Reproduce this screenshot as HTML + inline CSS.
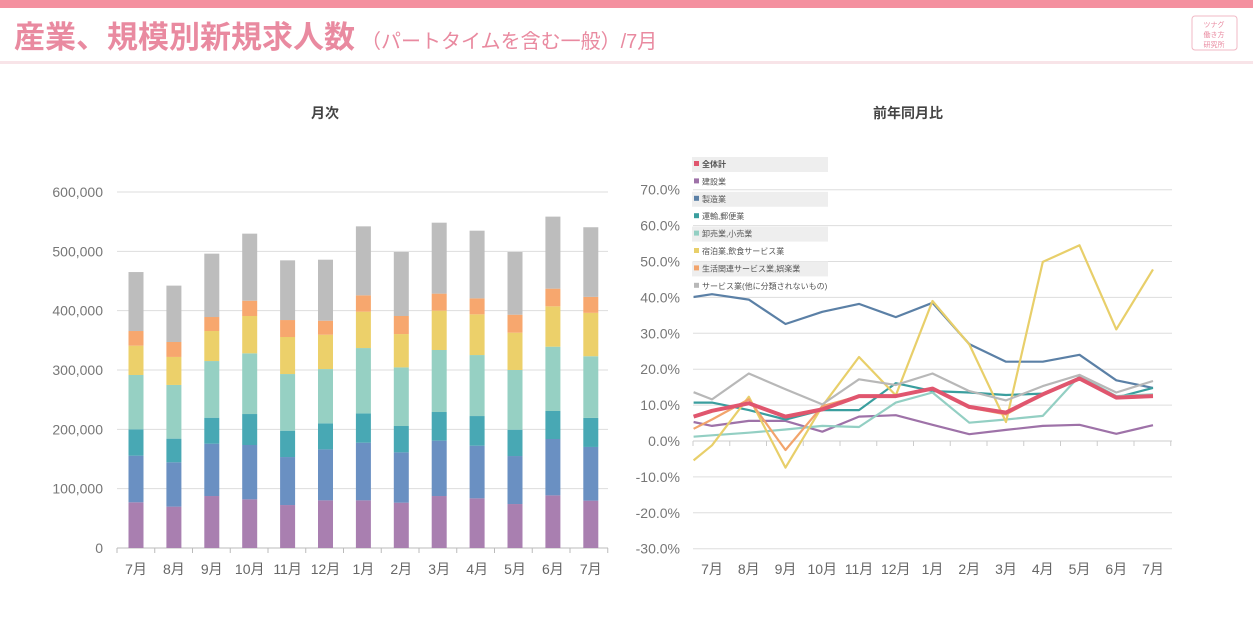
<!DOCTYPE html>
<html><head><meta charset="utf-8">
<style>
body{margin:0;width:1253px;height:631px;background:#fff;overflow:hidden;font-family:"Liberation Sans","Noto Sans CJK JP",sans-serif;}
svg text{font-family:"Liberation Sans","Noto Sans CJK JP",sans-serif;}
</style></head>
<body>
<svg id="s" width="1253" height="631">
<rect x="0" y="0" width="1253" height="8" fill="#f4909f"/>
<text x="14" y="48" font-size="31" font-weight="bold" fill="#e98aa0">産業、規模別新規求人数<tspan font-size="20" font-weight="normal" dx="6">（パートタイムを含む一般）/7月</tspan></text>
<rect x="0" y="61" width="1253" height="3" fill="#f8e4e8"/>
<rect x="1192" y="16" width="45" height="34" rx="3" fill="#fff" stroke="#f0b8c4"/>
<text x="1214" y="27" font-size="7" fill="#e98aa0" text-anchor="middle">ツナグ</text>
<text x="1214" y="37" font-size="7" fill="#e98aa0" text-anchor="middle">働き方</text>
<text x="1214" y="47" font-size="7" fill="#e98aa0" text-anchor="middle">研究所</text>
<text x="325" y="118" font-size="14" font-weight="bold" fill="#444" text-anchor="middle">月次</text>
<text x="908" y="118" font-size="14" font-weight="bold" fill="#444" text-anchor="middle">前年同月比</text>
<g id="L"></g><g id="R"></g>
</svg>
<script>
const months=["7月","8月","9月","10月","11月","12月","1月","2月","3月","4月","5月","6月","7月"];
const construction=[77,69.7,87.6,82,72.4,80.3,80.3,76.4,87.6,83.7,74.1,88.7,79.8];
const manufacturing=[78.6,74.7,88.2,91.6,80.9,85.9,97.2,84.8,93.3,88.7,80.9,95,90.5];
const transport=[44.4,39.9,43.8,52.2,44.4,43.9,49.4,44.4,48.3,50,44.4,47.2,48.9];
const wholesale=[91.6,90.5,95.5,102.3,95.5,91.5,110.1,98.8,104.5,102.8,100.6,108.4,104];
const hospitality=[49.4,47.2,50.6,62.9,62.4,57.9,61.3,56.2,66.3,68.6,62.9,68,73.1];
const lifestyle=[24.7,25.2,23.6,25.8,28.6,23.6,27.5,30.4,28.7,26.9,30.3,29.8,26.9];
const services=[99.4,95,106.8,113,100.6,102.8,116.3,107.9,119.6,114.1,105.7,121.4,117.4];
const leftTicks=[0,100000,200000,300000,400000,500000,600000];
const seriesL=[construction,manufacturing,transport,wholesale,hospitality,lifestyle,services];
const colL=["#a97fb0","#6a90c2","#48a8b4","#96d0c3","#ecd06a","#f7a76e","#bdbdbd"];
const namesL=["construction","manufacturing","transport","wholesale","hospitality","lifestyle","services"];

const legendNames=["全体計","建設業","製造業","運輸,郵便業","卸売業,小売業","宿泊業,飲食サービス業","生活関連サービス業,娯楽業","サービス業(他に分類されないもの)"];
const total=[6.8,8.4,10.5,6.8,8.8,12.5,12.5,14.6,9.5,7.9,13.0,17.4,12.1,12.5];
const yoyConstruction=[5.3,4.2,5.6,5.6,2.6,6.8,7.2,4.5,1.9,3.1,4.2,4.5,2.0,4.4];
const yoyManufacturing=[40.1,40.9,39.4,32.6,36.0,38.2,34.5,38.5,27.0,22.1,22.1,24.0,16.9,14.8];
const yoyTransport=[10.7,10.7,8.6,6.0,8.6,8.6,16.1,13.9,13.5,12.8,13.2,17.6,12.1,14.8];
const yoyWholesale=[1.2,1.6,2.3,3.2,4.2,3.9,10.7,13.5,5.1,6.0,7.0,18.1,12.5,13.0];
const yoyHospitality=[-5.4,-1.2,12.3,-7.4,9.7,23.4,12.7,39.0,26.9,5.3,49.9,54.5,31.1,47.8];
const yoyLifestyle=[3.4,6.0,11.6,-2.5,9.7,12.5,12.5,14.4,9.3,7.4,13.0,17.2,12.1,12.7];
const yoyServices=[13.6,11.6,18.8,14.4,10.2,17.2,15.6,18.8,13.9,11.3,15.3,18.4,13.5,16.7];
const rightTicks=[-30,-20,-10,0,10,20,30,40,50,60,70];
const colR=["#e0566e","#9e72a8","#5b80a6","#3a9e9e","#93cfc3","#e8cf6a","#f2a46c","#b8b8b8"];

const NS="http://www.w3.org/2000/svg";
function mk(p,t,a,txt){const e=document.createElementNS(NS,t);for(const k in a)e.setAttribute(k,a[k]);if(txt!==undefined)e.textContent=txt;p.appendChild(e);return e;}
const L=document.getElementById('L'),R=document.getElementById('R');
const ly=v=>548-v/600000*356;
const lx=i=>136+i*37.9;
leftTicks.forEach(t=>{
 const g=mk(L,'line',{x1:117,x2:608,y1:ly(t),y2:ly(t),stroke:t===0?'#bbb':'#ddd','stroke-width':1});
 
 
 const tx=mk(L,'text',{x:103,y:ly(t)+5,'font-size':14,fill:'#777','text-anchor':'end'},t.toLocaleString('en-US'));
 
 
});
for(let i=0;i<=13;i++){const tk=mk(L,'line',{x1:117+i*37.75,x2:117+i*37.75,y1:548,y2:553,stroke:'#bbb'});
 
 }
months.forEach((m,i)=>{
 let cum=0;
 seriesL.forEach((s,k)=>{
  const v=s[i]*1000;
  const r=mk(L,'rect',{x:lx(i)-7.5,y:ly(cum+v),width:15,height:ly(cum)-ly(cum+v),fill:colL[k]});
  
  
  cum+=v;
 });
 const t=mk(L,'text',{x:lx(i),y:574,'font-size':14,fill:'#666','text-anchor':'middle'},m);
 
 
});
const ry=v=>441-v*3.59;
const rx=i=>712+i*36.75;
rightTicks.forEach(t=>{
 const g=mk(R,'line',{x1:693,x2:1172,y1:ry(t),y2:ry(t),stroke:t===0?'#ccc':'#ddd','stroke-width':1});
 
 
 const tx=mk(R,'text',{x:680,y:ry(t)+5,'font-size':14,fill:'#777','text-anchor':'end'},t.toFixed(1)+'%');
 
 
});
for(let i=0;i<=13;i++){const tk=mk(R,'line',{x1:693+i*36.75,x2:693+i*36.75,y1:441,y2:446,stroke:'#ccc'});
 
 }
months.forEach((m,i)=>{
 const t=mk(R,'text',{x:rx(i),y:574,'font-size':14,fill:'#666','text-anchor':'middle'},m);
 
 
});
const seriesR=[yoyConstruction,yoyManufacturing,yoyTransport,yoyWholesale,yoyHospitality,yoyLifestyle,yoyServices,total];
const idxR=[1,2,3,4,5,6,7,0];
seriesR.forEach((s,k)=>{
 const ci=idxR[k];
 const pts=s.map((v,j)=>rx(j-(j===0?0.5:1)).toFixed(1)+','+ry(v).toFixed(1)).join(' ');
 const p=mk(R,'polyline',{points:pts,fill:'none',stroke:colR[ci],'stroke-width':ci===0?4:2.2,'stroke-linejoin':'round'});
 
 
});
legendNames.forEach((n,i)=>{
 const y=164+i*17.4;
 if(i%2===0){const b=mk(R,'rect',{x:692,y:y-7,width:136,height:15,fill:'#eeeeee'});
  
  }
 const sw=mk(R,'rect',{x:694,y:y-3,width:5,height:5,fill:colR[i]});
 
 
 const t=mk(R,'text',{x:702,y:y+3,'font-size':8,fill:'#555','font-weight':i===0?'bold':'normal'},n);
 
 
});
</script>
</body></html>
